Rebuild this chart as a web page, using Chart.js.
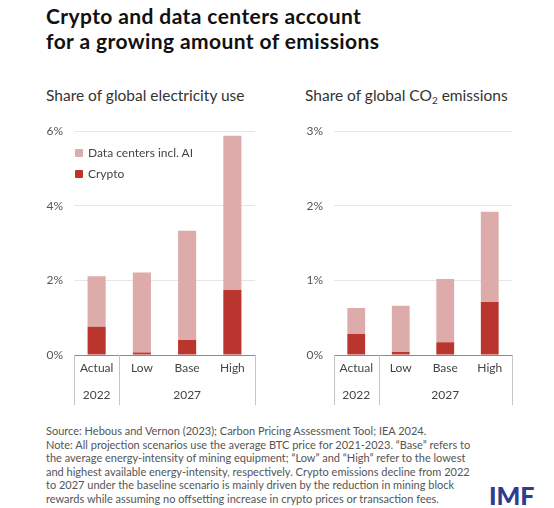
<!DOCTYPE html>
<html>
<head>
<meta charset="utf-8">
<script src="https://cdn.jsdelivr.net/npm/chart.js@4"></script>
<style>
  body { margin: 0; background: #fff; font-family: Lato, sans-serif; }
  #wrap { position: relative; width: 554px; height: 508px; overflow: hidden; }
  .title { position: absolute; left: 46px; top: 4px; font-size: 21px; font-weight: 700; line-height: 24.6px; letter-spacing: 0.4px; color: #111; }
  .sub { position: absolute; top: 86px; font-size: 15.5px; color: #333; }
  .sub sub { font-size: 10px; vertical-align: -3px; line-height: 0; }
  .legend { position: absolute; left: 75px; font-size: 12px; color: #444; }
  .legend span { display: inline-block; width: 8px; height: 8px; border-radius: 1px; margin-right: 5px; vertical-align: 0px; }
  .note { position: absolute; left: 46px; top: 424px; font-size: 11px; line-height: 13.5px; color: #555; }
  .logo { position: absolute; left: 489px; top: 480px; font-size: 25px; line-height: 30px; font-weight: 900; color: #2e3b8f; }
  canvas { position: absolute; }
</style>
</head>
<body>
<div id="wrap">
  <div class="title">Crypto and data centers account<br>for a growing amount of emissions</div>
  <div class="sub" style="left:46px">Share of global electricity use</div>
  <div class="sub" style="left:305px">Share of global CO<sub>2</sub> emissions</div>
  <div style="position:absolute;left:0;top:113px;width:280px;height:297px"><canvas id="elec"></canvas></div>
  <div style="position:absolute;left:280px;top:113px;width:274px;height:297px"><canvas id="co2"></canvas></div>
  <div class="legend" style="top:145px"><span style="background:#ddabaa"></span>Data centers incl. AI</div>
  <div class="legend" style="top:166px"><span style="background:#b9352e"></span>Crypto</div>
  <div class="note">Source: Hebous and Vernon (2023); Carbon Pricing Assessment Tool; IEA 2024.<br>
Note: All projection scenarios use the average BTC price for 2021-2023. “Base” refers to<br>
the average energy-intensity of mining equipment; “Low” and “High” refer to the lowest<br>
and highest available energy-intensity, respectively. Crypto emissions decline from 2022<br>
to 2027 under the baseline scenario is mainly driven by the reduction in mining block<br>
rewards while assuming no offsetting increase in crypto prices or transaction fees.</div>
  <div class="logo">IMF</div>
</div>
<script>
// categories and groups
const categories = ['Actual', 'Low', 'Base', 'High'];
const years = ['2022', '2027'];

// share of global electricity use (%)
const elecCrypto = [0.76, 0.07, 0.40, 1.74];
const elecDataCenters = [1.35, 2.14, 2.93, 4.14];
const elecTicks = [0, 2, 4, 6];

// share of global CO2 emissions (%)
const co2Crypto = [0.28, 0.04, 0.17, 0.71];
const co2DataCenters = [0.35, 0.62, 0.85, 1.21];
const co2Ticks = [0, 1, 2, 3];

const cryptoColor = '#b9352e';
const dcColor = '#ddabaa';

// draws the second row (2022 / 2027) and the separator lines
const groupAxis = {
  id: 'groupAxis',
  afterDraw(chart) {
    const ctx = chart.ctx;
    const x = chart.scales.x;
    const bottom = chart.chartArea.bottom;
    const lines = [x.left, (x.getPixelForValue(0) + x.getPixelForValue(1)) / 2, x.right];
    ctx.save();
    ctx.strokeStyle = '#c4c4c4';
    ctx.lineWidth = 1;
    lines.forEach(px => {
      ctx.beginPath();
      ctx.moveTo(Math.round(px) + 0.5, bottom);
      ctx.lineTo(Math.round(px) + 0.5, bottom + 50);
      ctx.stroke();
    });
    ctx.fillStyle = '#444';
    ctx.font = '12px Lato';
    ctx.textAlign = 'center';
    ctx.textBaseline = 'middle';
    ctx.fillText(years[0], x.getPixelForValue(0), bottom + 40);
    ctx.fillText(years[1], x.getPixelForValue(2), bottom + 40);
    ctx.restore();
  }
};

function makeChart(id, crypto, dc, ticks, yWidth, padRight) {
  return new Chart(document.getElementById(id), {
    type: 'bar',
    data: {
      labels: categories,
      datasets: [
        { label: 'Crypto', data: crypto, backgroundColor: cryptoColor },
        { label: 'Data centers incl. AI', data: dc, backgroundColor: dcColor }
      ]
    },
    options: {
      responsive: true,
      maintainAspectRatio: false,
      animation: false,
      layout: { padding: { top: 3, right: padRight, bottom: 0, left: 0 } },
      datasets: { bar: { categoryPercentage: 1, barPercentage: 0.4 } },
      plugins: {
        tooltip: { enabled: false },
        legend: { display: false }
      },
      scales: {
        x: {
          stacked: true,
          grid: { display: false, drawTicks: false },
          border: { color: '#8a8a8a', width: 1 },
          ticks: { color: '#444', font: { family: 'Lato', size: 12 }, padding: 6, maxRotation: 0 },
          afterFit(scale) { scale.height = 55; }
        },
        y: {
          stacked: true,
          min: ticks[0],
          max: ticks[ticks.length - 1],
          afterBuildTicks(scale) { scale.ticks = ticks.map(v => ({ value: v })); },
          grid: { color: '#e6e6e6', drawTicks: false },
          border: { display: false },
          ticks: {
            color: '#555', padding: 11, font: { family: 'Lato', size: 12 },
            callback: v => v + '%'
          },
          afterFit(scale) { scale.width = yWidth; }
        }
      }
    },
    plugins: [groupAxis]
  });
}

makeChart('elec', elecCrypto, elecDataCenters, elecTicks, 74, 25);
makeChart('co2', co2Crypto, co2DataCenters, co2Ticks, 54, 42);
</script>
</body>
</html>
